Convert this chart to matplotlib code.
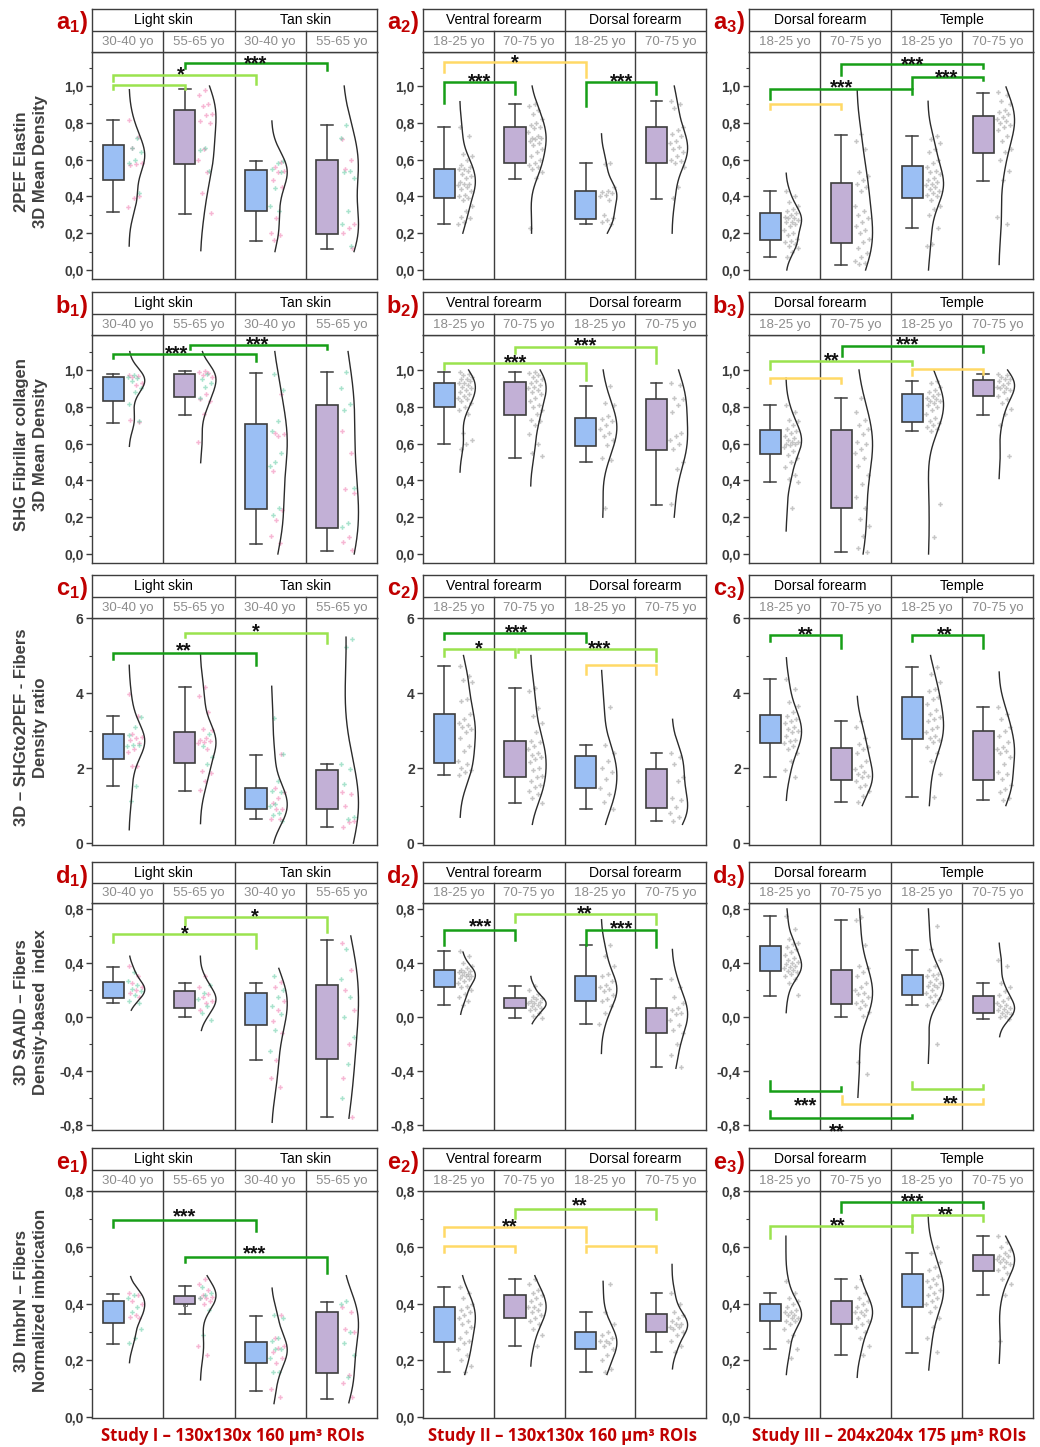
import numpy as np
import matplotlib
matplotlib.use('Agg')
import matplotlib.pyplot as plt
from matplotlib.ticker import MultipleLocator, FuncFormatter

plt.rcParams['font.family'] = ['Liberation Sans', 'DejaVu Sans']
plt.rcParams['mathtext.fontset'] = 'custom'
plt.rcParams['mathtext.bf'] = 'Liberation Sans:bold'
plt.rcParams['mathtext.rm'] = 'Liberation Sans'

# ---------------- DATA ----------------
GROUPS_I = ['Light skin', 'Tan skin']
SUBS_I = ['30-40 yo', '55-65 yo', '30-40 yo', '55-65 yo']
GROUPS_II = ['Ventral forearm', 'Dorsal forearm']
SUBS_II = ['18-25 yo', '70-75 yo', '18-25 yo', '70-75 yo']
GROUPS_III = ['Dorsal forearm', 'Temple']
SUBS_III = ['18-25 yo', '70-75 yo', '18-25 yo', '70-75 yo']

YLABELS = ['2PEF Elastin\n3D Mean Density',
           'SHG Fibrillar collagen\n3D Mean Density',
           '3D \u2013 SHGto2PEF - Fibers\nDensity ratio',
           '3D SAAID \u2013 Fibers\nDensity-based  index',
           '3D ImbrN \u2013 Fibers\nNormalized imbrication']
STUDY_LABELS = ['Study I \u2013 130x130x 160 \u00b5m\u00b3 ROIs',
                'Study II \u2013 130x130x 160 \u00b5m\u00b3 ROIs',
                'Study III \u2013 204x204x 175 \u00b5m\u00b3 ROIs']

# box stats per group: [whisker low, q1, median, q3, whisker high, mean]
A1_box = [[0.315, 0.49, 0.585, 0.68, 0.815, 0.58], [0.305, 0.575, 0.735, 0.87, 0.985, 0.71],
          [0.16, 0.32, 0.50, 0.545, 0.595, 0.435], [0.115, 0.195, 0.32, 0.60, 0.79, 0.40]]
A1_curve = [[0.13, 0.98], [0.105, 1.0], [0.10, 0.81], [0.10, 1.0]]
A1_pink = [[0.815, 0.725, 0.665, 0.58, 0.575, 0.57, 0.40, 0.39, 0.34],
           [0.98, 0.95, 0.90, 0.89, 0.85, 0.84, 0.81, 0.80, 0.655, 0.60, 0.53, 0.42, 0.31],
           [0.585, 0.56, 0.54, 0.53, 0.49, 0.45, 0.28, 0.20, 0.19, 0.165],
           [0.71, 0.60, 0.55, 0.25, 0.23, 0.20, 0.12]]
A1_teal = [[0.72, 0.665, 0.64, 0.60, 0.58, 0.42], [0.665, 0.65, 0.54],
           [0.595, 0.58, 0.55, 0.53, 0.445, 0.35, 0.32],
           [0.79, 0.72, 0.54, 0.53, 0.50, 0.32, 0.25, 0.13]]

A2_box = [[0.25, 0.39, 0.475, 0.55, 0.78, 0.48], [0.495, 0.58, 0.70, 0.78, 0.905, 0.68],
          [0.25, 0.276, 0.414, 0.432, 0.58, 0.40], [0.387, 0.58, 0.67, 0.775, 0.917, 0.68]]
A2_curve = [[0.20, 0.915], [0.20, 1.0], [0.20, 0.74], [0.20, 1.0]]
A2_pts = [[0.78, 0.73, 0.63, 0.62, 0.60, 0.57, 0.56, 0.55, 0.55, 0.54, 0.52, 0.51, 0.50, 0.48, 0.47,
           0.47, 0.46, 0.45, 0.44, 0.43, 0.41, 0.40, 0.39, 0.38, 0.35, 0.32, 0.29, 0.28, 0.26, 0.25],
          [0.905, 0.89, 0.87, 0.85, 0.82, 0.80, 0.79, 0.78, 0.77, 0.75, 0.73, 0.72, 0.72, 0.71, 0.70,
           0.69, 0.68, 0.66, 0.64, 0.62, 0.60, 0.58, 0.57, 0.56, 0.55, 0.53, 0.50, 0.23],
          [0.58, 0.575, 0.45, 0.43, 0.425, 0.42, 0.41, 0.40, 0.38, 0.30, 0.28, 0.27, 0.26, 0.25],
          [0.92, 0.90, 0.88, 0.78, 0.76, 0.74, 0.73, 0.70, 0.69, 0.67, 0.66, 0.64, 0.62, 0.60, 0.59,
           0.58, 0.56, 0.45, 0.39]]

A3_box = [[0.069, 0.163, 0.261, 0.309, 0.43, 0.245], [0.027, 0.145, 0.281, 0.472, 0.735, 0.314],
          [0.227, 0.394, 0.474, 0.563, 0.731, 0.468], [0.485, 0.635, 0.788, 0.837, 0.962, 0.726]]
A3_curve = [[0.0, 0.526], [0.0, 0.98], [0.0, 0.917], [0.03, 0.995]]
A3_pts = [[0.43, 0.40, 0.37, 0.35, 0.33, 0.32, 0.31, 0.30, 0.29, 0.28, 0.28, 0.27, 0.26, 0.26, 0.25,
           0.24, 0.22, 0.20, 0.19, 0.17, 0.16, 0.15, 0.14, 0.13, 0.12, 0.10, 0.07],
          [0.74, 0.70, 0.66, 0.53, 0.51, 0.49, 0.47, 0.45, 0.43, 0.35, 0.32, 0.30, 0.28, 0.26, 0.24,
           0.22, 0.20, 0.17, 0.15, 0.12, 0.09, 0.07, 0.05, 0.04, 0.03],
          [0.73, 0.71, 0.69, 0.66, 0.64, 0.60, 0.58, 0.56, 0.54, 0.53, 0.52, 0.50, 0.49, 0.48, 0.47,
           0.46, 0.45, 0.44, 0.43, 0.42, 0.41, 0.40, 0.38, 0.35, 0.33, 0.30, 0.23, 0.14, 0.13],
          [0.97, 0.95, 0.92, 0.90, 0.87, 0.86, 0.85, 0.83, 0.82, 0.81, 0.80, 0.79, 0.78, 0.76, 0.73,
           0.70, 0.66, 0.64, 0.60, 0.54, 0.49, 0.29, 0.25]]

B1_box = [[0.713, 0.831, 0.927, 0.962, 0.978, 0.887], [0.753, 0.853, 0.942, 0.98, 0.993, 0.911],
          [0.056, 0.242, 0.585, 0.705, 0.982, 0.529], [0.018, 0.14, 0.355, 0.81, 0.989, 0.47]]
B1_curve = [[0.585, 1.10], [0.496, 1.10], [0.0, 1.10], [0.0, 1.10]]
B1_pink = [[0.97, 0.965, 0.96, 0.93, 0.92, 0.73, 0.715],
           [0.995, 0.99, 0.985, 0.97, 0.96, 0.87, 0.84, 0.83, 0.76, 0.61],
           [0.87, 0.66, 0.65, 0.64, 0.45, 0.24, 0.185, 0.10, 0.06],
           [0.67, 0.55, 0.355, 0.33, 0.095, 0.065, 0.02]]
B1_teal = [[0.97, 0.96, 0.955, 0.94, 0.90, 0.88, 0.815, 0.72],
           [0.98, 0.95, 0.93, 0.91, 0.85],
           [0.98, 0.89, 0.72, 0.67, 0.55, 0.50, 0.48, 0.25, 0.21],
           [0.99, 0.90, 0.815, 0.78, 0.36, 0.17, 0.145]]

B2_box = [[0.597, 0.797, 0.891, 0.931, 0.989, 0.851], [0.524, 0.753, 0.889, 0.937, 0.989, 0.842],
          [0.501, 0.588, 0.688, 0.737, 0.915, 0.661], [0.267, 0.564, 0.653, 0.844, 0.931, 0.68]]
B2_curve = [[0.445, 1.0], [0.37, 1.0], [0.2, 1.0], [0.2, 1.0]]
B2_pts = [[0.99, 0.98, 0.97, 0.96, 0.95, 0.95, 0.94, 0.93, 0.93, 0.92, 0.91, 0.90, 0.89, 0.88, 0.87,
           0.86, 0.85, 0.84, 0.83, 0.82, 0.80, 0.78, 0.76, 0.66, 0.62, 0.60, 0.57],
          [0.99, 0.985, 0.97, 0.96, 0.95, 0.94, 0.93, 0.92, 0.91, 0.90, 0.89, 0.88, 0.87, 0.85, 0.83,
           0.81, 0.80, 0.78, 0.76, 0.73, 0.72, 0.70, 0.65, 0.60, 0.55, 0.53],
          [0.915, 0.82, 0.81, 0.75, 0.735, 0.72, 0.70, 0.68, 0.66, 0.64, 0.62, 0.59, 0.52, 0.51, 0.25],
          [0.93, 0.92, 0.85, 0.84, 0.81, 0.77, 0.66, 0.64, 0.62, 0.60, 0.57, 0.50, 0.46, 0.27]]

B3_box = [[0.39, 0.541, 0.606, 0.673, 0.811, 0.608], [0.011, 0.249, 0.555, 0.673, 0.848, 0.475],
          [0.671, 0.715, 0.828, 0.867, 0.938, 0.771], [0.753, 0.86, 0.907, 0.944, 0.976, 0.886]]
B3_curve = [[0.125, 0.955], [0.0, 1.0], [0.0, 1.0], [0.41, 1.0]]
B3_pts = [[0.81, 0.77, 0.73, 0.72, 0.70, 0.68, 0.67, 0.66, 0.64, 0.63, 0.62, 0.61, 0.61, 0.60, 0.60,
           0.59, 0.58, 0.56, 0.54, 0.52, 0.50, 0.47, 0.43, 0.41, 0.39, 0.25],
          [0.85, 0.77, 0.73, 0.70, 0.68, 0.65, 0.61, 0.60, 0.57, 0.55, 0.52, 0.48, 0.43, 0.38, 0.31,
           0.25, 0.19, 0.15, 0.10, 0.03, 0.01],
          [0.94, 0.93, 0.91, 0.89, 0.88, 0.87, 0.86, 0.85, 0.84, 0.83, 0.83, 0.82, 0.81, 0.80, 0.78,
           0.76, 0.74, 0.72, 0.71, 0.70, 0.69, 0.68, 0.67, 0.27, 0.09],
          [0.98, 0.97, 0.96, 0.95, 0.95, 0.94, 0.93, 0.92, 0.91, 0.90, 0.90, 0.89, 0.88, 0.86, 0.84,
           0.82, 0.79, 0.76, 0.70, 0.53]]

C1_box = [[1.51, 2.24, 2.67, 2.90, 3.39, 2.62], [1.40, 2.13, 2.74, 2.96, 4.16, 2.67],
          [0.64, 0.91, 1.18, 1.48, 2.34, 1.38], [0.42, 0.91, 1.30, 1.96, 2.10, 1.70]]
C1_curve = [[0.356, 4.74], [0.52, 5.05], [0.0, 4.18], [0.0, 5.49]]
C1_pink = [[3.97, 3.40, 2.91, 2.84, 2.80, 2.76, 2.66, 2.50, 2.42, 2.06, 2.05],
           [4.17, 3.92, 3.50, 3.05, 3.02, 2.80, 2.75, 2.72, 2.70, 2.66, 2.50, 1.92, 1.88, 1.65, 1.42],
           [2.37, 1.48, 1.35, 1.20, 1.08, 0.92, 0.90, 0.65, 0.63],
           [1.35, 1.30, 1.00, 0.58, 0.55, 0.42]]
C1_teal = [[3.36, 3.10, 2.88, 2.62, 2.62, 2.60, 1.52, 1.12],
           [2.90, 2.60, 2.30, 2.10],
           [3.33, 2.37, 1.66, 1.40, 1.36, 1.05, 1.00, 0.80, 0.75, 0.60],
           [5.43, 5.22, 2.10, 1.97, 1.58, 0.70, 0.65]]

C2_box = [[1.82, 2.14, 3.05, 3.45, 4.72, 2.96], [1.08, 1.76, 2.28, 2.72, 4.13, 2.36],
          [0.92, 1.47, 1.77, 2.31, 2.62, 1.89], [0.58, 0.94, 1.24, 1.97, 2.40, 1.45]]
C2_curve = [[0.69, 5.0], [0.5, 5.0], [0.5, 4.6], [0.5, 3.3]]
C2_pts = [[4.72, 4.45, 4.35, 4.30, 3.85, 3.80, 3.45, 3.30, 3.20, 3.15, 3.10, 3.05, 2.95, 2.80, 2.60,
           2.45, 2.20, 2.10, 2.00, 1.95, 1.90, 1.82],
          [4.13, 4.05, 3.60, 3.40, 3.20, 2.95, 2.72, 2.70, 2.60, 2.50, 2.40, 2.35, 2.30, 2.25, 2.15,
           2.00, 1.95, 1.80, 1.75, 1.65, 1.55, 1.50, 1.40, 1.30, 1.20, 1.08],
          [3.62, 2.62, 2.40, 2.20, 2.00, 1.90, 1.70, 1.48, 1.30, 1.10, 0.92],
          [2.40, 2.30, 2.10, 1.75, 1.65, 1.20, 1.15, 0.95, 0.80, 0.70, 0.60]]

C3_box = [[1.76, 2.68, 3.05, 3.42, 4.37, 3.04], [1.10, 1.68, 1.97, 2.54, 3.26, 2.11],
          [1.23, 2.78, 3.32, 3.89, 4.69, 3.29], [1.14, 1.69, 2.46, 3.00, 3.63, 2.39]]
C3_curve = [[1.14, 4.94], [1.0, 3.91], [1.0, 5.0], [1.0, 4.56]]
C3_pts = [[4.37, 4.10, 3.75, 3.65, 3.50, 3.40, 3.30, 3.25, 3.20, 3.10, 3.05, 3.00, 2.95, 2.85, 2.75,
           2.72, 2.68, 2.60, 2.50, 2.40, 2.20, 1.95, 1.76],
          [3.26, 3.10, 2.80, 2.65, 2.55, 2.50, 2.40, 2.20, 2.05, 1.97, 1.90, 1.85, 1.80, 1.75, 1.65,
           1.55, 1.50, 1.40, 1.25, 1.10],
          [4.69, 4.50, 4.30, 4.10, 4.05, 3.90, 3.85, 3.70, 3.55, 3.45, 3.35, 3.30, 3.25, 3.10, 3.05,
           2.95, 2.85, 2.80, 2.75, 2.70, 2.55, 2.40, 2.20, 1.85, 1.23],
          [3.63, 3.45, 3.30, 3.10, 3.00, 2.85, 2.70, 2.55, 2.50, 2.45, 2.40, 2.30, 2.10, 1.90, 1.85,
           1.70, 1.55, 1.45, 1.35, 1.20, 1.14]]

D1_box = [[0.10, 0.14, 0.20, 0.26, 0.37, 0.20], [0.0, 0.07, 0.14, 0.19, 0.25, 0.13],
          [-0.32, -0.06, 0.10, 0.18, 0.25, 0.03], [-0.74, -0.31, 0.06, 0.24, 0.57, -0.03]]
D1_curve = [[0.05, 0.45], [-0.1, 0.45], [-0.78, 0.36], [-0.75, 0.60]]
D1_pink = [[0.38, 0.30, 0.25, 0.22, 0.20, 0.18, 0.15],
           [0.30, 0.22, 0.17, 0.15, 0.12, 0.10, 0.05],
           [0.26, 0.22, 0.12, 0.05, -0.03, -0.12, -0.32, -0.45, -0.52],
           [0.55, 0.35, 0.20, 0.05, -0.20, -0.45, -0.74]]
D1_teal = [[0.33, 0.27, 0.24, 0.21, 0.19, 0.16, 0.12, 0.10],
           [0.24, 0.18, 0.13, 0.08, 0.03, -0.02],
           [0.30, 0.20, 0.15, 0.08, 0.02, -0.10, -0.25],
           [0.50, 0.28, 0.15, 0.00, -0.15, -0.35, -0.60]]

D2_box = [[0.09, 0.22, 0.31, 0.35, 0.49, 0.30], [-0.01, 0.07, 0.10, 0.14, 0.23, 0.10],
          [-0.05, 0.12, 0.21, 0.30, 0.53, 0.23], [-0.37, -0.12, 0.03, 0.07, 0.28, -0.01]]
D2_curve = [[0.02, 0.48], [-0.05, 0.30], [-0.27, 0.72], [-0.38, 0.50]]
D2_pts = [[0.49, 0.45, 0.40, 0.38, 0.36, 0.35, 0.34, 0.33, 0.33, 0.32, 0.31, 0.30, 0.30, 0.29, 0.28,
           0.27, 0.25, 0.23, 0.22, 0.20, 0.17, 0.15, 0.12, 0.09],
          [0.23, 0.20, 0.17, 0.15, 0.14, 0.13, 0.12, 0.11, 0.10, 0.10, 0.09, 0.08, 0.07, 0.06, 0.05,
           0.03, 0.01, -0.01],
          [0.53, 0.45, 0.38, 0.32, 0.30, 0.27, 0.24, 0.22, 0.21, 0.19, 0.16, 0.13, 0.12, 0.08, 0.03, -0.05],
          [0.28, 0.22, 0.15, 0.10, 0.07, 0.05, 0.03, 0.02, -0.02, -0.06, -0.10, -0.12, -0.20, -0.28, -0.37]]

D3_box = [[0.158, 0.341, 0.398, 0.526, 0.748, 0.43], [0.002, 0.094, 0.175, 0.346, 0.718, 0.205],
          [0.091, 0.16, 0.244, 0.309, 0.496, 0.252], [-0.015, 0.027, 0.084, 0.156, 0.254, 0.116]]
D3_curve = [[0.032, 0.80], [-0.595, 0.80], [-0.343, 0.80], [-0.146, 0.546]]
D3_pts = [[0.75, 0.65, 0.58, 0.55, 0.54, 0.52, 0.50, 0.48, 0.46, 0.44, 0.42, 0.41, 0.40, 0.39, 0.38,
           0.37, 0.36, 0.35, 0.34, 0.33, 0.32, 0.30, 0.28, 0.25, 0.16],
          [0.74, 0.72, 0.53, 0.38, 0.36, 0.33, 0.30, 0.25, 0.22, 0.20, 0.18, 0.17, 0.15, 0.12, 0.10,
           0.09, 0.07, 0.04, 0.01, -0.33, -0.42],
          [0.67, 0.50, 0.42, 0.38, 0.35, 0.32, 0.31, 0.30, 0.28, 0.26, 0.25, 0.24, 0.23, 0.22, 0.20,
           0.18, 0.16, 0.15, 0.13, 0.11, 0.09, -0.20],
          [0.42, 0.38, 0.25, 0.22, 0.19, 0.16, 0.14, 0.12, 0.10, 0.09, 0.08, 0.07, 0.06, 0.05, 0.04,
           0.03, 0.02, 0.01, 0.00, -0.015]]

E1_box = [[0.258, 0.331, 0.358, 0.411, 0.436, 0.364], [0.364, 0.399, 0.42, 0.427, 0.465, 0.40],
          [0.091, 0.192, 0.239, 0.264, 0.358, 0.229], [0.063, 0.155, 0.29, 0.371, 0.408, 0.266]]
E1_curve = [[0.192, 0.497], [0.131, 0.50], [0.047, 0.456], [0.05, 0.50]]
E1_pink = [[0.44, 0.43, 0.41, 0.40, 0.36, 0.355, 0.35],
           [0.49, 0.47, 0.45, 0.43, 0.425, 0.42, 0.42, 0.41, 0.40, 0.25, 0.22],
           [0.36, 0.28, 0.25, 0.245, 0.23, 0.21, 0.19, 0.10, 0.07],
           [0.39, 0.37, 0.31, 0.30, 0.15, 0.12, 0.07]]
E1_teal = [[0.43, 0.42, 0.39, 0.37, 0.31, 0.28, 0.26],
           [0.46, 0.44, 0.43, 0.42, 0.38, 0.29],
           [0.36, 0.35, 0.28, 0.27, 0.24, 0.24, 0.21, 0.16, 0.16],
           [0.41, 0.40, 0.30, 0.26, 0.22, 0.14]]

E2_box = [[0.16, 0.265, 0.34, 0.39, 0.46, 0.33], [0.25, 0.35, 0.39, 0.43, 0.49, 0.37],
          [0.16, 0.24, 0.28, 0.30, 0.37, 0.27], [0.23, 0.30, 0.325, 0.365, 0.44, 0.33]]
E2_curve = [[0.15, 0.50], [0.18, 0.50], [0.15, 0.48], [0.17, 0.54]]
E2_pts = [[0.46, 0.44, 0.42, 0.40, 0.39, 0.38, 0.37, 0.36, 0.35, 0.34, 0.33, 0.32, 0.30, 0.28, 0.27,
           0.26, 0.24, 0.22, 0.20, 0.18, 0.16],
          [0.49, 0.47, 0.45, 0.44, 0.43, 0.42, 0.41, 0.40, 0.39, 0.39, 0.38, 0.37, 0.36, 0.35, 0.34,
           0.33, 0.31, 0.29, 0.25],
          [0.47, 0.37, 0.33, 0.30, 0.29, 0.28, 0.27, 0.27, 0.26, 0.25, 0.24, 0.22, 0.20, 0.17, 0.16],
          [0.44, 0.40, 0.37, 0.36, 0.35, 0.34, 0.33, 0.33, 0.32, 0.32, 0.31, 0.30, 0.29, 0.27, 0.25, 0.23]]

E3_box = [[0.24, 0.34, 0.37, 0.40, 0.44, 0.36], [0.22, 0.33, 0.38, 0.41, 0.49, 0.37],
          [0.227, 0.39, 0.44, 0.506, 0.58, 0.44], [0.43, 0.517, 0.55, 0.573, 0.64, 0.54]]
E3_curve = [[0.15, 0.64], [0.14, 0.50], [0.166, 0.715], [0.19, 0.64]]
E3_pts = [[0.48, 0.44, 0.42, 0.41, 0.40, 0.39, 0.38, 0.37, 0.37, 0.36, 0.36, 0.35, 0.35, 0.34, 0.34,
           0.33, 0.31, 0.29, 0.27, 0.24, 0.21],
          [0.49, 0.46, 0.44, 0.42, 0.41, 0.40, 0.39, 0.38, 0.37, 0.37, 0.36, 0.35, 0.34, 0.33, 0.32,
           0.30, 0.28, 0.25, 0.22],
          [0.60, 0.58, 0.55, 0.53, 0.52, 0.50, 0.49, 0.48, 0.47, 0.46, 0.45, 0.44, 0.43, 0.42, 0.41,
           0.40, 0.39, 0.37, 0.35, 0.32, 0.28, 0.23],
          [0.64, 0.62, 0.60, 0.59, 0.58, 0.57, 0.57, 0.56, 0.56, 0.55, 0.55, 0.54, 0.53, 0.52, 0.51,
           0.49, 0.47, 0.43, 0.27]]

# significance brackets: (x_from, x_to, y, leg_end_left, leg_end_right, colour key, label, label_x, label_y)
A1_sig = [(0.3, 1.3, 1.005, 0.985, 0.985, 'lg', '', 0, 0),
          (0.3, 2.3, 1.058, 1.03, 1.01, 'lg', '*', 1.25, 1.096),
          (1.3, 3.3, 1.125, 1.10, 1.085, 'dg', '***', 2.30, 1.155)]
A2_sig = [(0.3, 2.3, 1.132, 1.074, 1.047, 'ye', '*', 1.30, 1.16),
          (0.3, 1.3, 1.024, 0.907, 0.956, 'dg', '***', 0.80, 1.056),
          (2.3, 3.3, 1.024, 0.893, 0.956, 'dg', '***', 2.80, 1.056)]
A3_sig = [(0.3, 1.3, 0.902, 0.875, 0.875, 'ye', '', 0, 0),
          (0.3, 2.3, 0.984, 0.93, 0.956, 'dg', '***', 1.30, 1.025),
          (1.3, 3.3, 1.12, 1.062, 1.10, 'dg', '***', 2.30, 1.15),
          (2.3, 3.3, 1.049, 0.99, 1.035, 'dg', '***', 2.78, 1.08)]
B1_sig = [(0.3, 2.3, 1.089, 1.065, 1.05, 'dg', '***', 1.18, 1.12),
          (1.38, 3.3, 1.138, 1.116, 1.116, 'dg', '***', 2.33, 1.17)]
B2_sig = [(0.3, 2.3, 1.036, 1.007, 0.947, 'lg', '***', 1.31, 1.073),
          (1.3, 3.3, 1.127, 1.094, 1.04, 'lg', '***', 2.30, 1.163)]
B3_sig = [(0.3, 1.3, 0.958, 0.927, 0.927, 'ye', '', 0, 0),
          (0.3, 2.3, 1.049, 1.004, 1.025, 'lg', '**', 1.16, 1.085),
          (2.3, 3.3, 1.007, 0.97, 0.98, 'ye', '', 0, 0),
          (1.31, 3.3, 1.13, 1.076, 1.10, 'dg', '***', 2.24, 1.17)]
C1_sig = [(0.3, 2.3, 5.08, 4.92, 4.76, 'dg', '**', 1.28, 5.30),
          (1.3, 3.3, 5.61, 5.49, 5.33, 'lg', '*', 2.30, 5.80)]
C2_sig = [(0.3, 2.3, 5.60, 5.45, 5.36, 'dg', '***', 1.32, 5.78),
          (0.3, 1.3, 5.18, 5.0, 4.96, 'lg', '*', 0.79, 5.34),
          (1.34, 3.3, 5.18, 5.09, 4.85, 'lg', '***', 2.49, 5.34),
          (2.3, 3.3, 4.74, 4.52, 4.52, 'ye', '', 0, 0)]
C3_sig = [(0.3, 1.3, 5.55, 5.39, 5.21, 'dg', '**', 0.80, 5.72),
          (2.3, 3.3, 5.55, 5.39, 5.21, 'dg', '**', 2.76, 5.72)]
D1_sig = [(0.3, 2.3, 0.615, 0.555, 0.51, 'lg', '*', 1.30, 0.66),
          (1.3, 3.3, 0.74, 0.68, 0.63, 'lg', '*', 2.28, 0.79)]
D2_sig = [(0.3, 1.3, 0.645, 0.53, 0.57, 'dg', '***', 0.81, 0.71),
          (1.3, 3.3, 0.763, 0.70, 0.69, 'lg', '**', 2.29, 0.81),
          (2.3, 3.3, 0.645, 0.53, 0.52, 'dg', '***', 2.81, 0.70)]
D3_sig = [(0.3, 1.3, -0.546, -0.472, -0.516, 'dg', '***', 0.80, -0.61),
          (0.3, 2.3, -0.751, -0.694, -0.726, 'dg', '**', 1.23, -0.805),
          (2.3, 3.3, -0.536, -0.479, -0.506, 'lg', '', 0, 0),
          (1.31, 3.3, -0.644, -0.583, -0.61, 'ye', '**', 2.84, -0.595)]
E1_sig = [(0.3, 2.3, 0.699, 0.673, 0.657, 'dg', '***', 1.30, 0.73),
          (1.3, 3.3, 0.568, 0.547, 0.509, 'dg', '***', 2.28, 0.598)]
E2_sig = [(0.3, 1.3, 0.605, 0.585, 0.585, 'ye', '', 0, 0),
          (0.3, 2.3, 0.672, 0.64, 0.62, 'ye', '**', 1.23, 0.694),
          (1.3, 3.3, 0.736, 0.704, 0.70, 'lg', '**', 2.22, 0.768),
          (2.3, 3.3, 0.605, 0.585, 0.585, 'ye', '', 0, 0)]
E3_sig = [(0.3, 2.3, 0.676, 0.634, 0.655, 'lg', '**', 1.25, 0.697),
          (1.3, 3.3, 0.761, 0.726, 0.74, 'dg', '***', 2.30, 0.782),
          (2.3, 3.3, 0.715, 0.676, 0.694, 'lg', '**', 2.77, 0.736)]

# ---------------- STYLE / LAYOUT ----------------
W, H = 1040, 1447
COL_X = [(92, 377), (423, 706), (749, 1033)]
ROW_Y = [(9, 52, 279), (292, 335, 563), (575, 618, 845), (862, 903, 1130), (1148, 1191, 1418)]
ROW_YLIM = [(-0.049, 1.185), (-0.049, 1.19), (-0.05, 6.0), (-0.837, 0.844), (-0.004, 0.8)]
ROW_MAJOR = [0.2, 0.2, 2, 0.4, 0.2]
ROW_MINOR = [0.1, 0.1, 1, 0.2, 0.1]
ROW_DEC = [1, 1, 0, 1, 1]

EDGE = '#3d3d3d'
BLUE = '#9bbff4'
PURPLE = '#c2b0d6'
SIGC = {'dg': '#179e17', 'lg': '#9be34e', 'ye': '#ffd966'}
PINK = '#ef6fa9'
TEAL = '#52c79b'
GRAY = '#808080'
RED = '#c00000'

fig = plt.figure(figsize=(W / 100, H / 100), dpi=100)


def px_axes(x0, x1, y0, y1):
    return fig.add_axes([x0 / W, 1 - y1 / H, (x1 - x0) / W, (y1 - y0) / H])


def kde(vals, lo, hi):
    v = np.asarray(vals, dtype=float)
    bw = 1.06 * v.std(ddof=1) * len(v) ** (-0.2)
    ys = np.linspace(lo, hi, 200)
    d = np.exp(-0.5 * ((ys[:, None] - v[None, :]) / bw) ** 2).sum(axis=1)
    return ys, d / d.max()


def make_fmt(dec):
    def f(v, pos):
        if abs(v) < 1e-9:
            v = 0.0
        return (f"{v:.{dec}f}").replace('.', ',')
    return FuncFormatter(f)


def draw_panel(r, c, box, curve, point_sets, sig, groups, subs):
    x0, x1 = COL_X[c]
    yh, yp, yb = ROW_Y[r]
    ax = px_axes(x0, x1, yp, yb)
    hax = px_axes(x0, x1, yh, yp)

    # header
    hax.set_xlim(0, 4)
    hax.set_ylim(0, 2)
    hax.set_xticks([])
    hax.set_yticks([])
    for s in hax.spines.values():
        s.set_color(EDGE)
        s.set_linewidth(1.0)
    hax.plot([0, 4], [1, 1], color=EDGE, lw=1.0)
    hax.plot([2, 2], [0, 2], color=EDGE, lw=1.0)
    hax.plot([1, 1], [0, 1], color=EDGE, lw=1.0)
    hax.plot([3, 3], [0, 1], color=EDGE, lw=1.0)
    hax.text(1, 1.48, groups[0], ha='center', va='center', fontsize=10, color='#000000')
    hax.text(3, 1.48, groups[1], ha='center', va='center', fontsize=10, color='#000000')
    for i, s in enumerate(subs):
        hax.text(i + 0.5, 0.48, s, ha='center', va='center', fontsize=9.5, color='#8c8c8c')

    # boxes
    stats = []
    for b in box:
        stats.append({'whislo': b[0], 'q1': b[1], 'med': b[2], 'q3': b[3], 'whishi': b[4],
                      'mean': b[5], 'fliers': []})
    bp = ax.bxp(stats, positions=[i + 0.30 for i in range(4)], widths=0.30, patch_artist=True,
                showmeans=True, showfliers=False, capwidths=0.165, manage_ticks=False,
                boxprops=dict(edgecolor=EDGE, linewidth=1.2),
                medianprops=dict(color=EDGE, linewidth=1.2),
                whiskerprops=dict(color=EDGE, linewidth=1.1),
                capprops=dict(color=EDGE, linewidth=1.1),
                meanprops=dict(marker='s', markerfacecolor='none', markeredgecolor='#7a7a7a',
                               markersize=3.3, markeredgewidth=0.7))
    for i, patch in enumerate(bp['boxes']):
        patch.set_facecolor(BLUE if i % 2 == 0 else PURPLE)
        patch.set_zorder(3)

    # plot area
    ax.set_xlim(0, 4)
    ax.set_ylim(*ROW_YLIM[r])
    for s in ax.spines.values():
        s.set_color(EDGE)
        s.set_linewidth(1.0)
    for xv in (1, 2, 3):
        ax.axvline(xv, color=EDGE, lw=1.0, zorder=1)
    ax.set_xticks([])
    ax.yaxis.set_major_locator(MultipleLocator(ROW_MAJOR[r]))
    ax.yaxis.set_minor_locator(MultipleLocator(ROW_MINOR[r]))
    ax.yaxis.set_major_formatter(make_fmt(ROW_DEC[r]))
    ax.tick_params(axis='y', which='major', direction='out', length=4, width=1, color=EDGE,
                   labelsize=10, labelcolor='#3a3a3a', pad=2)
    ax.tick_params(axis='y', which='minor', direction='out', length=2.2, width=0.8, color=EDGE)
    for lab in ax.get_yticklabels():
        lab.set_fontweight('bold')

    # points
    for i in range(4):
        k = 0
        for vals, colr, alpha in point_sets(i):
            xs = [i + 0.49 + 0.21 * (((k + j) * 0.618034 + 0.31 * i + 0.13) % 1.0)
                  for j in range(len(vals))]
            k += len(vals)
            ax.plot(xs, vals, linestyle='none', marker='P', markersize=3.3, markeredgewidth=0,
                    color=colr, alpha=alpha, zorder=2)

    # half violins
    for i in range(4):
        allv = [v for vals, _, _ in point_sets(i) for v in vals]
        ys, d = kde(allv, curve[i][0], curve[i][1])
        ax.plot(i + 0.52 + 0.22 * d, ys, color='#2b2b2b', lw=1.0, zorder=2)

    # significance brackets
    for (xa, xb, yy, ya, yb2, ck, lab, lx, ly) in sig:
        ax.plot([xa, xa, xb, xb], [ya, yy, yy, yb2], color=SIGC[ck], lw=1.8,
                solid_joinstyle='miter', zorder=4)
        if lab:
            ax.annotate(lab, (lx, ly), xytext=(0, -8.4), textcoords='offset points',
                        ha='center', va='baseline', fontsize=14.5, fontweight='bold',
                        color='#111111', zorder=5)

    # panel label
    fig.text((x0 - 4) / W, 1 - (yh + 14) / H, r'$\mathbf{' + 'abcde'[r] + '_{' + str(c + 1) + '})}$',
             ha='right', va='center', fontsize=17, color=RED)
    return ax


def mixed(pink, teal):
    return lambda i: [(pink[i], PINK, 0.5), (teal[i], TEAL, 0.5)]


def gray(pts):
    return lambda i: [(pts[i], GRAY, 0.45)]


draw_panel(0, 0, A1_box, A1_curve, mixed(A1_pink, A1_teal), A1_sig, GROUPS_I, SUBS_I)
draw_panel(0, 1, A2_box, A2_curve, gray(A2_pts), A2_sig, GROUPS_II, SUBS_II)
draw_panel(0, 2, A3_box, A3_curve, gray(A3_pts), A3_sig, GROUPS_III, SUBS_III)
draw_panel(1, 0, B1_box, B1_curve, mixed(B1_pink, B1_teal), B1_sig, GROUPS_I, SUBS_I)
draw_panel(1, 1, B2_box, B2_curve, gray(B2_pts), B2_sig, GROUPS_II, SUBS_II)
draw_panel(1, 2, B3_box, B3_curve, gray(B3_pts), B3_sig, GROUPS_III, SUBS_III)
draw_panel(2, 0, C1_box, C1_curve, mixed(C1_pink, C1_teal), C1_sig, GROUPS_I, SUBS_I)
draw_panel(2, 1, C2_box, C2_curve, gray(C2_pts), C2_sig, GROUPS_II, SUBS_II)
draw_panel(2, 2, C3_box, C3_curve, gray(C3_pts), C3_sig, GROUPS_III, SUBS_III)
draw_panel(3, 0, D1_box, D1_curve, mixed(D1_pink, D1_teal), D1_sig, GROUPS_I, SUBS_I)
draw_panel(3, 1, D2_box, D2_curve, gray(D2_pts), D2_sig, GROUPS_II, SUBS_II)
draw_panel(3, 2, D3_box, D3_curve, gray(D3_pts), D3_sig, GROUPS_III, SUBS_III)
draw_panel(4, 0, E1_box, E1_curve, mixed(E1_pink, E1_teal), E1_sig, GROUPS_I, SUBS_I)
draw_panel(4, 1, E2_box, E2_curve, gray(E2_pts), E2_sig, GROUPS_II, SUBS_II)
draw_panel(4, 2, E3_box, E3_curve, gray(E3_pts), E3_sig, GROUPS_III, SUBS_III)

# y-axis titles
for r, lab in enumerate(YLABELS):
    yh, yp, yb = ROW_Y[r]
    fig.text(31 / W, 1 - ((yp + yb) / 2 - 4) / H, lab, rotation=90, ha='center', va='center',
             fontsize=12, fontweight='bold', color='#404040', linespacing=1.3,
             multialignment='center')

# study labels
for c, lab in enumerate(STUDY_LABELS):
    x0, x1 = COL_X[c]
    fig.text((x0 + x1) / 2 / W - 2 / W, 1 - 1436 / H, lab, ha='center', va='center', fontsize=12,
             fontweight='bold', color=RED, family=['Open Sans', 'DejaVu Sans'])

fig.savefig('out.png', dpi=100)
